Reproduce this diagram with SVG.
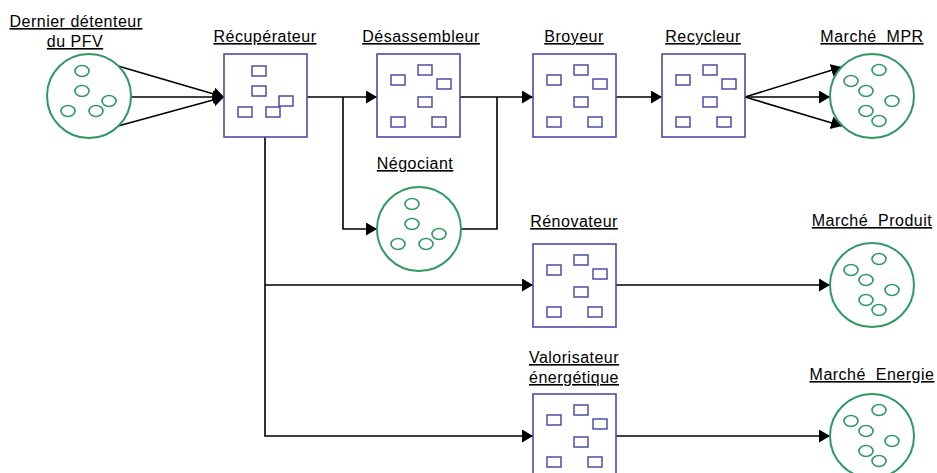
<svg xmlns="http://www.w3.org/2000/svg" width="937" height="473" viewBox="0 0 937 473">
<defs>
<style>
.lbl{font-family:"Liberation Sans",Arial,sans-serif;font-size:16px;letter-spacing:0.5px;fill:#000;text-anchor:middle;text-decoration:underline;white-space:pre}
.circ{fill:#fff;stroke:#2e9962;stroke-width:2}
.dot{fill:none;stroke:#2e9962;stroke-width:1.6}
.box{fill:#fff;stroke:#4a4aa8;stroke-width:1.6}
.sq{fill:none;stroke:#4040a0;stroke-width:1.4}
.con{fill:none;stroke:#000;stroke-width:1.6}
</style>
<marker id="ah" markerUnits="userSpaceOnUse" markerWidth="12" markerHeight="14" refX="11" refY="6.5" orient="auto">
<path d="M0,0 L11,6.5 L0,13 z" fill="#000"/>
</marker>
<g id="sqs">
<rect class="sq" x="14" y="21" width="14" height="10"/>
<rect class="sq" x="41" y="11" width="14" height="10"/>
<rect class="sq" x="60" y="25" width="14" height="10"/>
<rect class="sq" x="41" y="43" width="14" height="10"/>
<rect class="sq" x="14" y="63" width="14" height="10"/>
<rect class="sq" x="55" y="63" width="14" height="10"/>
</g>
<g id="dots5">
<ellipse class="dot" cx="-7" cy="-25" rx="7" ry="5.5"/>
<ellipse class="dot" cx="-7" cy="-5" rx="7" ry="5.5"/>
<ellipse class="dot" cx="-21" cy="15" rx="7" ry="5.5"/>
<ellipse class="dot" cx="7" cy="15" rx="7" ry="5.5"/>
<ellipse class="dot" cx="20" cy="5" rx="7" ry="5.5"/>
</g>
<g id="dots6">
<ellipse class="dot" cx="7" cy="-26" rx="7" ry="5.5"/>
<ellipse class="dot" cx="-21" cy="-15" rx="7" ry="5.5"/>
<ellipse class="dot" cx="-6" cy="-5" rx="7" ry="5.5"/>
<ellipse class="dot" cx="20" cy="5" rx="7" ry="5.5"/>
<ellipse class="dot" cx="-6" cy="15" rx="7" ry="5.5"/>
<ellipse class="dot" cx="7" cy="25" rx="7" ry="5.5"/>
</g>
</defs>
<rect width="937" height="473" fill="#fff"/>

<g id="connectors">
<path class="con" d="M118,66 L224,97" marker-end="url(#ah)"/>
<path class="con" d="M131,97 L224,97" marker-end="url(#ah)"/>
<path class="con" d="M118,126 L224,97" marker-end="url(#ah)"/>
<path class="con" d="M307,97 L377,97" marker-end="url(#ah)"/>
<path class="con" d="M343,97 L343,229 L377,229" marker-end="url(#ah)"/>
<path class="con" d="M460,97 L533,97" marker-end="url(#ah)"/>
<path class="con" d="M461,229 L497,229 L497,97"/>
<path class="con" d="M616,97 L662,97" marker-end="url(#ah)"/>
<path class="con" d="M745,97 L842,67" marker-end="url(#ah)"/>
<path class="con" d="M745,97 L830,97" marker-end="url(#ah)"/>
<path class="con" d="M745,97 L842,126" marker-end="url(#ah)"/>
<path class="con" d="M265,137 L265,436 L533,436" marker-end="url(#ah)"/>
<path class="con" d="M265,285 L533,285" marker-end="url(#ah)"/>
<path class="con" d="M616,285 L830,285" marker-end="url(#ah)"/>
<path class="con" d="M616,436 L830,436" marker-end="url(#ah)"/>
</g>

<g id="dernier">
<circle class="circ" cx="89" cy="96" r="42"/>
<use href="#dots5" x="89" y="96"/>
<text class="lbl" x="76" y="27">Dernier détenteur</text>
<text class="lbl" x="75" y="47">du PFV</text>
</g>

<g id="recuperateur">
<rect class="box" x="224" y="54" width="83" height="83"/>
<rect class="sq" x="252" y="66" width="14" height="10"/>
<rect class="sq" x="252" y="86" width="14" height="10"/>
<rect class="sq" x="238" y="107" width="14" height="10"/>
<rect class="sq" x="266" y="107" width="14" height="10"/>
<rect class="sq" x="279" y="96" width="14" height="10"/>
<text class="lbl" x="265" y="42">Récupérateur</text>
</g>

<g id="desassembleur">
<rect class="box" x="377" y="54" width="83" height="83"/>
<use href="#sqs" x="377" y="54"/>
<text class="lbl" x="421" y="42">Désassembleur</text>
</g>

<g id="broyeur">
<rect class="box" x="533" y="54" width="83" height="83"/>
<use href="#sqs" x="533" y="54"/>
<text class="lbl" x="574" y="42">Broyeur</text>
</g>

<g id="recycleur">
<rect class="box" x="662" y="54" width="83" height="83"/>
<use href="#sqs" x="662" y="54"/>
<text class="lbl" x="703" y="42">Recycleur</text>
</g>

<g id="marche-mpr">
<circle class="circ" cx="872" cy="96" r="42"/>
<use href="#dots6" x="872" y="96"/>
<text class="lbl" x="872" y="42">Marché  MPR</text>
</g>

<g id="negociant">
<circle class="circ" cx="419" cy="229" r="42"/>
<use href="#dots5" x="419" y="229"/>
<text class="lbl" x="415" y="169">Négociant</text>
</g>

<g id="renovateur">
<rect class="box" x="533" y="244" width="83" height="83"/>
<use href="#sqs" x="533" y="244"/>
<text class="lbl" x="574" y="227">Rénovateur</text>
</g>

<g id="marche-produit">
<circle class="circ" cx="872" cy="285" r="42"/>
<use href="#dots6" x="872" y="285"/>
<text class="lbl" x="872" y="226">Marché  Produit</text>
</g>

<g id="valorisateur">
<rect class="box" x="533" y="394" width="83" height="83"/>
<use href="#sqs" x="533" y="394"/>
<text class="lbl" x="574" y="363">Valorisateur</text>
<text class="lbl" x="574" y="383">énergétique</text>
</g>

<g id="marche-energie">
<circle class="circ" cx="872" cy="436" r="42"/>
<use href="#dots6" x="872" y="436"/>
<text class="lbl" x="872" y="380">Marché  Energie</text>
</g>
</svg>
